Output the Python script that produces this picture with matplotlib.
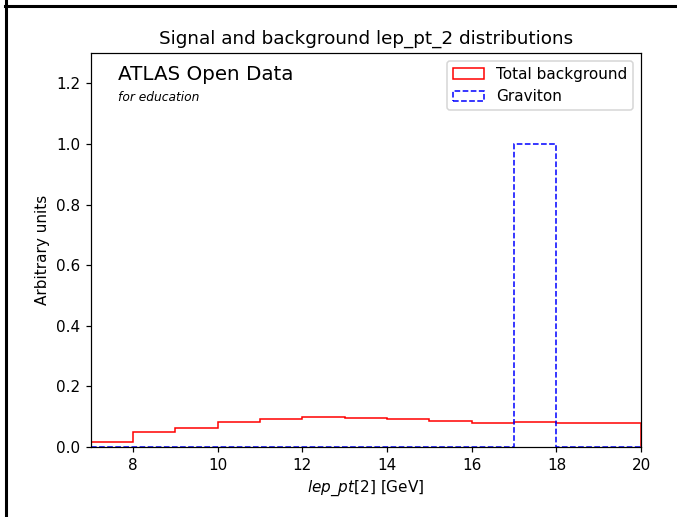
import numpy as np
import matplotlib
matplotlib.use('Agg')
import matplotlib.pyplot as plt
from matplotlib.lines import Line2D

# binning for the sub-leading lepton pT (GeV)
bin_edges = [7, 8, 9, 10, 11, 12, 13, 14, 15, 16, 17, 18, 19, 20]

# normalised shapes per bin
background = [0.0175, 0.048, 0.064, 0.081, 0.093, 0.098, 0.095,
              0.091, 0.085, 0.078, 0.081, 0.078, 0.078]
graviton = [0, 0, 0, 0, 0, 0, 0, 0, 0, 0, 1.0, 0, 0]

centers = 0.5 * (np.array(bin_edges[:-1]) + np.array(bin_edges[1:]))

dpi = 110
fig = plt.figure(figsize=(677 / dpi, 517 / dpi), dpi=dpi)
ax = fig.add_axes([0.134, 0.1354, 0.813, 0.7621])

ax.hist(centers, bins=bin_edges, weights=background, histtype='step',
        color='red', label='Total background')
ax.hist(centers, bins=bin_edges, weights=graviton, histtype='step',
        color='blue', linestyle='--', label='Graviton')

ax.set_xlim(7, 20)
ax.set_ylim(0, 1.3)
ax.set_title('Signal and background lep_pt_2 distributions', fontsize=12)
ax.set_xlabel(r'$lep\_pt$[2] [GeV]')
ax.set_ylabel('Arbitrary units')

ax.text(0.05, 0.922, 'ATLAS Open Data', transform=ax.transAxes,
        fontsize=13, va='bottom')
ax.text(0.05, 0.87, 'for education', transform=ax.transAxes,
        fontsize=8, style='italic', va='bottom')
ax.legend(loc='upper right')

# frame lines around the figure
fig.add_artist(Line2D([0.0089, 0.0089], [0, 1], transform=fig.transFigure,
                      color='black', linewidth=2.0))
fig.add_artist(Line2D([0.0075, 1], [0.9884, 0.9884], transform=fig.transFigure,
                      color='black', linewidth=2.0))

fig.savefig('out.png', dpi=dpi)
